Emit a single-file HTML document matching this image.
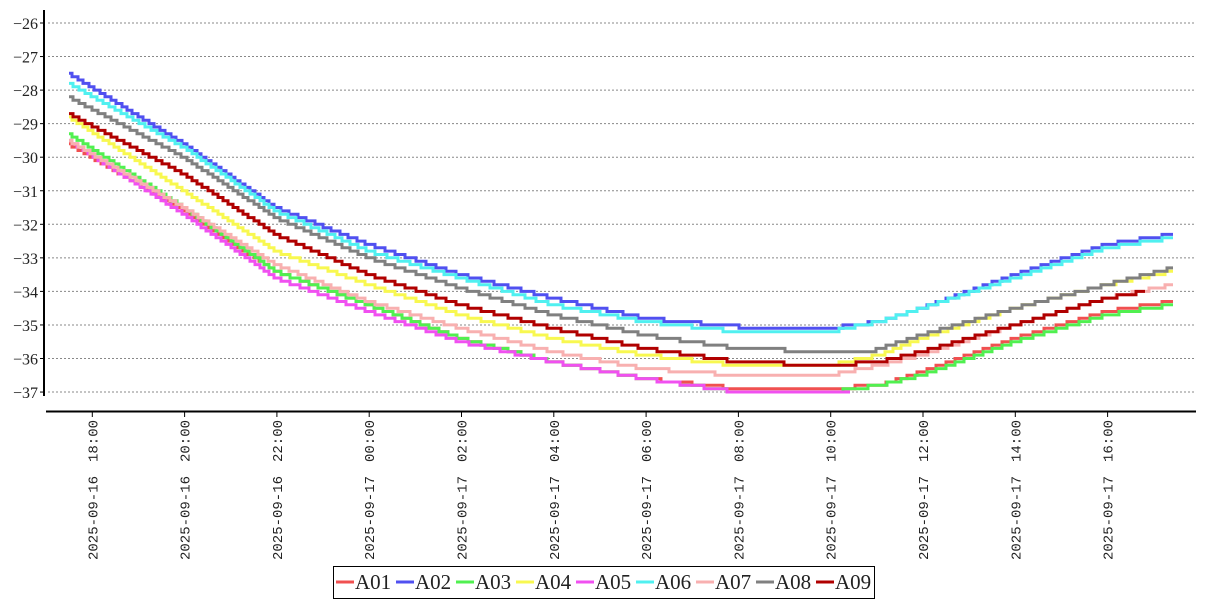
<!DOCTYPE html>
<html><head><meta charset="utf-8"><style>
body{margin:0;background:#fff;}
svg{display:block;font-family:"Liberation Serif","DejaVu Serif",serif;}
</style></head><body>
<svg id="s" width="1207" height="600" xmlns="http://www.w3.org/2000/svg">
<g id="grid" stroke="#888" stroke-width="1" stroke-dasharray="2,2"></g>
<g id="ylab" font-size="16" fill="#222" text-anchor="end"></g>
<g id="xlab" font-size="14" fill="#222" font-family="Liberation Mono, monospace"></g>
<line x1="44" y1="10" x2="44" y2="396" stroke="#000" stroke-width="2"/>
<line x1="46" y1="411.5" x2="1196" y2="411.5" stroke="#000" stroke-width="2"/>
<g id="series" fill="none" stroke-width="3"></g>
<rect x="333.5" y="566.5" width="541" height="32" fill="#fff" stroke="#000" stroke-width="1"/>
<g id="leg" font-size="21" fill="#222"></g>
</svg>
<script>
const NS="http://www.w3.org/2000/svg";
function el(t,a,p,txt){const e=document.createElementNS(NS,t);for(const k in a)e.setAttribute(k,a[k]);if(txt!==undefined)e.textContent=txt;document.getElementById(p).appendChild(e);return e;}
const Y=v=>23+(-26-v)*33.55;
for(let v=-26;v>=-37;v--){const y=Y(v);el('line',{x1:48,x2:1196,y1:y,y2:y},'grid');el('line',{x1:40,x2:44,y1:y,y2:y,stroke:'#000'},'ylab');el('text',{x:38,y:y+6},'ylab','\u2212'+(-v));}
const labs=["2025-09-16 18:00","2025-09-16 20:00","2025-09-16 22:00","2025-09-17 00:00","2025-09-17 02:00","2025-09-17 04:00","2025-09-17 06:00","2025-09-17 08:00","2025-09-17 10:00","2025-09-17 12:00","2025-09-17 14:00","2025-09-17 16:00"];
labs.forEach((l,i)=>{const x=92.3+i*92.3;el('line',{x1:x,x2:x,y1:412,y2:417,stroke:'#000'},'xlab');
const [d,t]=l.split(' ');
el('text',{x:0,y:0,transform:`translate(${x+5},420) rotate(-90)`,'text-anchor':'end'},'xlab',t);
el('text',{x:0,y:0,transform:`translate(${x+5},476) rotate(-90)`,'text-anchor':'end'},'xlab',d);});
const S=[
["A01","#f05050",[[69,-29.6],[184,-31.6],[276,-33.4],[369,-34.4],[461,-35.4],[553,-36.1],[645,-36.6],[738,-36.9],[830,-36.9],[880,-36.8],[922,-36.4],[1015,-35.4],[1107,-34.6],[1173,-34.3]]],
["A02","#5050f0",[[69,-27.5],[184,-29.6],[276,-31.5],[369,-32.6],[461,-33.5],[553,-34.2],[645,-34.8],[738,-35.05],[830,-35.1],[880,-34.9],[922,-34.5],[1015,-33.5],[1107,-32.6],[1173,-32.3]]],
["A03","#50f050",[[69,-29.3],[184,-31.5],[276,-33.4],[369,-34.4],[461,-35.4],[553,-36.1],[645,-36.6],[738,-37.0],[830,-37.0],[880,-36.8],[922,-36.5],[1015,-35.5],[1107,-34.7],[1173,-34.4]]],
["A04","#f8f850",[[69,-28.8],[184,-31.0],[276,-32.8],[369,-33.8],[461,-34.7],[553,-35.4],[645,-35.9],[738,-36.2],[830,-36.2],[880,-35.9],[922,-35.4],[1015,-34.5],[1107,-33.8],[1173,-33.4]]],
["A05","#f050f0",[[69,-29.5],[184,-31.7],[276,-33.6],[369,-34.6],[461,-35.5],[553,-36.1],[645,-36.6],[738,-37.0],[850,-37.0]]],
["A06","#50f0f0",[[69,-27.8],[184,-29.7],[276,-31.6],[369,-32.8],[461,-33.6],[553,-34.4],[645,-34.9],[738,-35.2],[830,-35.2],[880,-34.9],[922,-34.5],[1015,-33.6],[1107,-32.7],[1173,-32.4]]],
["A07","#f8b0b0",[[69,-29.5],[184,-31.5],[276,-33.2],[369,-34.3],[461,-35.1],[553,-35.8],[645,-36.3],[738,-36.5],[830,-36.5],[880,-36.2],[922,-35.9],[1015,-35.0],[1107,-34.2],[1173,-33.8]]],
["A08","#808080",[[69,-28.2],[184,-30.0],[276,-31.8],[369,-33.0],[461,-33.9],[553,-34.7],[645,-35.3],[738,-35.7],[830,-35.8],[870,-35.8],[922,-35.3],[1015,-34.5],[1107,-33.8],[1173,-33.3]]],
["A09","#b00000",[[69,-28.7],[184,-30.5],[276,-32.3],[369,-33.5],[461,-34.4],[553,-35.1],[645,-35.7],[738,-36.1],[830,-36.2],[880,-36.1],[922,-35.8],[1015,-35.0],[1107,-34.2],[1145,-34.0]]]];
function interp(p,x){for(let i=0;i<p.length-1;i++){if(x<=p[i+1][0]){const t=(x-p[i][0])/(p[i+1][0]-p[i][0]);return p[i][1]+t*(p[i+1][1]-p[i][1]);}}return p[p.length-1][1];}
S.forEach(([n,c,p])=>{let d='';const x0=p[0][0],x1=p[p.length-1][0];let prev=null;
for(let x=x0;x<=x1;x+=1){const v=Math.round(interp(p,x)*10)/10;const y=Y(v).toFixed(1);
if(prev===null){d+=`M${x},${y}`;}else if(y!==prev){d+=`H${x}V${y}`;}prev=y;}
d+=`H${x1}`;el('path',{d:d,stroke:c},'series');});
let lx=336;S.forEach(([n,c])=>{el('line',{x1:lx,x2:lx+18,y1:582,y2:582,stroke:c,'stroke-width':3},'leg');el('text',{x:lx+19,y:589},'leg',n);lx+=60;});
</script>
</body></html>
